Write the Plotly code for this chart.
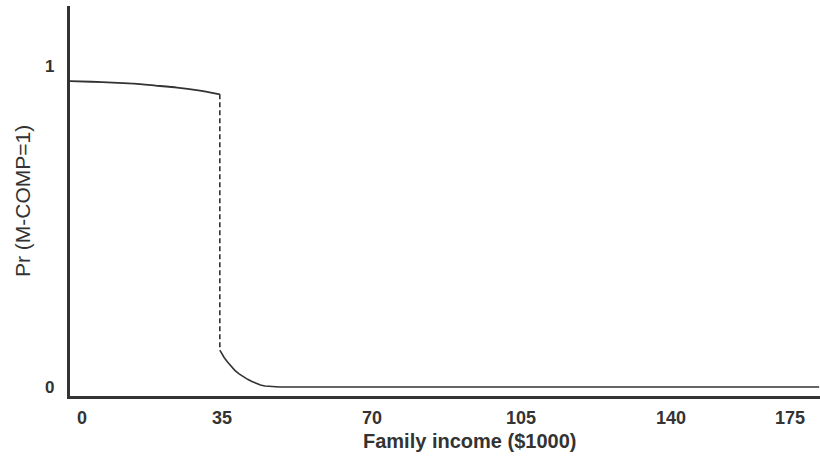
import plotly.graph_objects as go

# Data
income_upper = [0, 5, 10, 15, 20, 25, 30, 35]
prob_upper = [0.953, 0.951, 0.948, 0.945, 0.939, 0.933, 0.924, 0.912]

income_jump = [35, 35]
prob_jump = [0.912, 0.115]

income_lower = [35, 35.4, 36, 36.8, 37.6, 38.5, 39.5, 40.5, 41.5, 42.5, 43.5,
                44.5, 45.5, 47, 49, 175]
prob_lower = [0.115, 0.104, 0.092, 0.078, 0.065, 0.052, 0.041, 0.032, 0.024,
              0.017, 0.011, 0.006, 0.003, 0.001, 0.0, 0.0]

x_ticks = [0, 35, 70, 105, 140, 175]
x_tick_labels = ["0", "35", "70", "105", "140", "175"]
y_ticks = [0, 1]
y_tick_labels = ["0", "1"]

x_title = "Family income ($1000)"
y_title = "Pr (M-COMP=1)"

INK = "#333333"
FONT = "Liberation Sans"

fig = go.Figure()
fig.add_trace(go.Scatter(x=income_upper, y=prob_upper, mode="lines",
                         line=dict(color=INK, width=1.8, shape="spline", smoothing=0.6),
                         hoverinfo="skip"))
fig.add_trace(go.Scatter(x=income_jump, y=prob_jump, mode="lines",
                         line=dict(color=INK, width=1.6, dash="5px,3px"), hoverinfo="skip"))
fig.add_trace(go.Scatter(x=income_lower, y=prob_lower, mode="lines",
                         line=dict(color=INK, width=1.6), hoverinfo="skip"))

annotations = []
x_shift = {0: 12, 175: -29}
for v, lab in zip(x_ticks, x_tick_labels):
    annotations.append(dict(x=v, y=0, xref="x", yref="paper", text=lab,
                            showarrow=False, xanchor="center", yanchor="middle",
                            xshift=x_shift.get(v, 2), yshift=-22,
                            font=dict(family=FONT, size=18, color=INK, weight="bold")))
for v, lab in zip(y_ticks, y_tick_labels):
    annotations.append(dict(x=0, y=v, xref="paper", yref="y", text=lab,
                            showarrow=False, xanchor="right", yanchor="middle",
                            xshift=-14,
                            font=dict(family=FONT, size=17, color=INK, weight="bold")))
annotations.append(dict(x=0.533, y=0, xref="paper", yref="paper", text=x_title,
                        showarrow=False, xanchor="center", yanchor="middle", yshift=-45,
                        font=dict(family=FONT, size=20, color=INK, weight="bold")))
annotations.append(dict(x=0, y=0.5, xref="paper", yref="paper", text=y_title,
                        showarrow=False, xanchor="center", yanchor="middle", xshift=-48,
                        textangle=-90,
                        font=dict(family=FONT, size=21, color=INK)))

fig.update_layout(
    width=820, height=473,
    margin=dict(l=70, r=0, t=6, b=77),
    paper_bgcolor="white", plot_bgcolor="white",
    showlegend=False,
    annotations=annotations,
    xaxis=dict(range=[0, 175.2], showgrid=False, zeroline=False, showticklabels=False,
               ticks="", showline=True, linewidth=3, linecolor=INK, fixedrange=True),
    yaxis=dict(range=[-0.028, 1.187], showgrid=False, zeroline=False, showticklabels=False,
               ticks="", showline=True, linewidth=3, linecolor=INK, fixedrange=True),
)

fig.write_html("out.html", config={"displayModeBar": False},
               post_script="document.body.style.margin='0';document.body.style.overflow='hidden';")
